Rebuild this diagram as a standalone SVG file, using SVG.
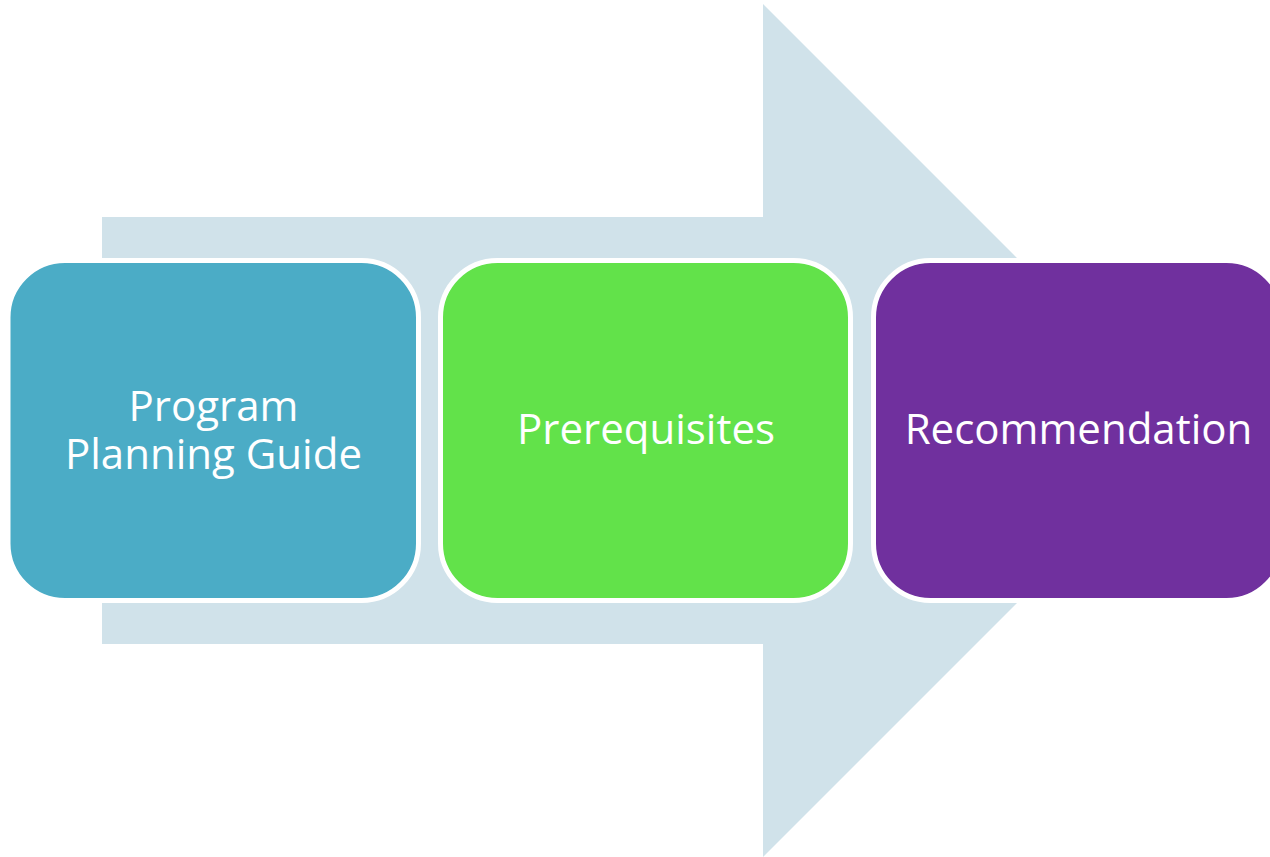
<svg xmlns="http://www.w3.org/2000/svg" width="1270" height="857" viewBox="0 0 1270 857">
<style>
.box{stroke:#FFFFFF;stroke-width:5}
.lbl{font-family:"Open Sans","DejaVu Sans",sans-serif;font-size:42px;fill:#FFFFFF;text-anchor:middle}
</style>
<rect width="1270" height="857" fill="#FFFFFF"/>
<g id="connectors">
<polygon id="arrow" points="102,217 763,217 763,4 1189.5,430.5 763,857 763,644 102,644" fill="#D0E2EA"/>
</g>
<g id="node1">
<rect class="box" x="8" y="260.5" width="410.5" height="340" rx="57" fill="#4BACC6"/>
<text class="lbl" x="213.5" y="421">Program</text>
<text class="lbl" x="213.5" y="469">Planning Guide</text>
</g>
<g id="node2">
<rect class="box" x="440.5" y="260.5" width="410" height="340" rx="57" fill="#62E24A"/>
<text class="lbl" x="646" y="444">Prerequisites</text>
</g>
<g id="node3">
<rect class="box" x="873.5" y="260.5" width="410" height="340" rx="57" fill="#70309E"/>
<text class="lbl" x="1078.5" y="444">Recommendation</text>
</g>
</svg>
